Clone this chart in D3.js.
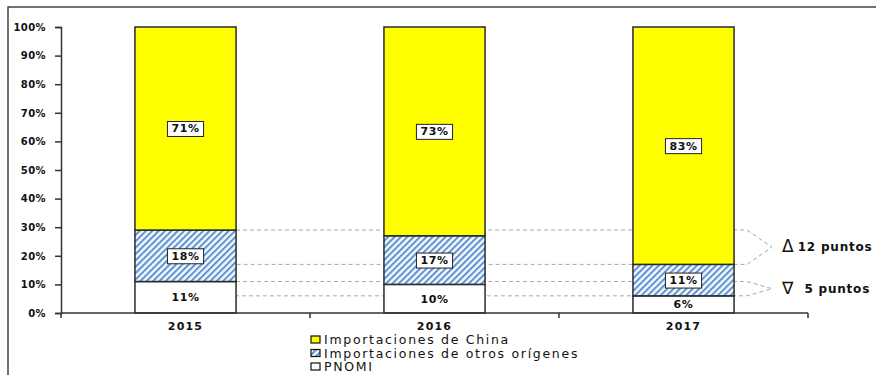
<!DOCTYPE html>
<html>
<head>
<meta charset="utf-8">
<script src="https://cdn.jsdelivr.net/npm/d3@7"></script>
<style>
  html, body { margin: 0; padding: 0; background: #fff; }
  svg { display: block; }
</style>
</head>
<body>
<svg id="chart" width="876" height="375"></svg>
<script>
// Shares of the apparent market by origin (%)
const years = ["2015", "2016", "2017"];
const pnomi = [11, 10, 6];
const otros = [18, 17, 11];
const china = [71, 73, 83];
const yTicks = [0, 10, 20, 30, 40, 50, 60, 70, 80, 90, 100];
const seriesNames = ["Importaciones de China", "Importaciones de otros orígenes", "PNOMI"];

const W = 876, H = 375;
const margin = { left: 61, right: 68, top: 27, bottom: 62 };
const svg = d3.select("#chart");

const x = d3.scaleBand()
  .domain(years)
  .range([margin.left, W - margin.right])
  .paddingInner(0.594)
  .paddingOuter(0.297);

const y = d3.scaleLinear()
  .domain([0, 100])
  .range([H - margin.bottom, margin.top]);

// Outer frame (top and left edges)
svg.append("path")
  .attr("d", `M8,${H} L8,7 L${W},7`)
  .attr("fill", "none")
  .attr("stroke", "#444")
  .attr("stroke-width", 1.5);

// Hatch for "otros orígenes"
const defs = svg.append("defs");
const pat = defs.append("pattern")
  .attr("id", "hatch")
  .attr("patternUnits", "userSpaceOnUse")
  .attr("width", 4.5).attr("height", 4.5)
  .attr("patternTransform", "rotate(45)");
pat.append("rect").attr("width", 4.5).attr("height", 4.5).attr("fill", "#f4f8fd");
pat.append("rect").attr("width", 2).attr("height", 4.5).attr("fill", "#5d93d3");

// Stacked rows: PNOMI at the bottom, then otros, then China
const rows = years.map((yr, i) => ({ year: yr, pnomi: pnomi[i], otros: otros[i], china: china[i] }));
const stack = d3.stack().keys(["pnomi", "otros", "china"])(rows);
const fills = { pnomi: "#ffffff", otros: "url(#hatch)", china: "#ffff00" };

// Comparison guides between 2015 and 2017
const guides = [
  { a: pnomi[0] + otros[0], b: pnomi[2] + otros[2], sym: "\u0394", off: 0 },
  { a: pnomi[0], b: pnomi[2], sym: "\u2207", off: 7 }
];
const gx0 = x("2015") + x.bandwidth();
const gx1 = x.range()[1] - 61;
const gTip = gx1 + 25;
const gGroup = svg.append("g");
guides.forEach(g => {
  const mid = (y(g.a) + y(g.b)) / 2;
  gGroup.append("path")
    .attr("d", `M${gx0},${y(g.a)} L${gx1},${y(g.a)} L${gTip},${mid} L${gx1},${y(g.b)} L${gx0},${y(g.b)}`)
    .attr("fill", "none")
    .attr("stroke", "#a8a8a8")
    .attr("stroke-width", 1)
    .attr("stroke-dasharray", "4,3");
  const t = svg.append("text")
    .attr("x", gTip + 10)
    .attr("y", mid + 5)
    .attr("font-family", "DejaVu Sans, Verdana, sans-serif")
    .attr("fill", "#111");
  t.append("tspan")
    .attr("font-size", 17)
    .attr("font-weight", "normal")
    .text(g.sym);
  t.append("tspan")
    .attr("dx", 4 + g.off)
    .attr("font-size", 12)
    .attr("font-weight", "bold")
    .attr("letter-spacing", 0.8)
    .attr("dy", -1)
    .text(`${g.a - g.b} puntos`);
});

// Bars
const layers = svg.append("g").selectAll("g")
  .data(stack)
  .join("g")
  .attr("fill", d => fills[d.key]);

layers.selectAll("rect")
  .data(d => d)
  .join("rect")
  .attr("x", d => x(d.data.year))
  .attr("y", d => y(d[1]))
  .attr("width", x.bandwidth())
  .attr("height", d => y(d[0]) - y(d[1]))
  .attr("stroke", "#2a2a2a")
  .attr("stroke-width", 1.5);

// Segment labels
const labelFont = "DejaVu Sans, Verdana, sans-serif";
stack.forEach(layer => {
  layer.forEach(d => {
    const cx = x(d.data.year) + x.bandwidth() / 2;
    const cy = (y(d[0]) + y(d[1])) / 2;
    const txt = `${d.data[layer.key]}%`;
    const g = svg.append("g");
    const t = g.append("text")
      .attr("x", cx)
      .attr("y", cy)
      .attr("dy", "0.36em")
      .attr("text-anchor", "middle")
      .attr("font-family", labelFont)
      .attr("font-size", 11)
      .attr("font-weight", "bold")
      .attr("letter-spacing", 0.6)
      .attr("fill", "#111")
      .text(txt);
    if (layer.key !== "pnomi") {
      const bb = t.node().getBBox();
      g.insert("rect", "text")
        .attr("x", bb.x - 4)
        .attr("y", bb.y - 1)
        .attr("width", bb.width + 8)
        .attr("height", bb.height + 2)
        .attr("fill", "#fff")
        .attr("stroke", "#222")
        .attr("stroke-width", 1);
    }
  });
});

// Y axis
const yAxis = svg.append("g")
  .attr("transform", `translate(${margin.left},0)`)
  .call(d3.axisLeft(y).tickValues(yTicks).tickFormat(d => d + "%").tickSize(6).tickPadding(9));
yAxis.select(".domain").attr("stroke", "#333").attr("stroke-width", 1.5);
yAxis.selectAll(".tick line").attr("stroke", "#333").attr("stroke-width", 1.5);
yAxis.selectAll(".tick text")
  .attr("font-family", labelFont)
  .attr("font-size", 10)
  .attr("font-weight", "bold")
  .attr("letter-spacing", 0.4)
  .attr("fill", "#111");

// X axis with ticks at the band edges
const xAxisG = svg.append("g")
  .attr("transform", `translate(0,${y(0)})`);
xAxisG.append("line")
  .attr("x1", x.range()[0]).attr("x2", x.range()[1])
  .attr("stroke", "#333").attr("stroke-width", 1.5);
const edges = years.map(yr => x(yr) - x.step() * x.paddingInner() / 2).concat([x.range()[1]]);
xAxisG.selectAll(".edge")
  .data(edges)
  .join("line")
  .attr("x1", d => d).attr("x2", d => d)
  .attr("y1", 0).attr("y2", 5)
  .attr("stroke", "#333").attr("stroke-width", 1.5);
xAxisG.selectAll(".yr")
  .data(years)
  .join("text")
  .attr("x", d => x(d) + x.bandwidth() / 2)
  .attr("y", 17)
  .attr("text-anchor", "middle")
  .attr("font-family", labelFont)
  .attr("font-size", 11)
  .attr("font-weight", "bold")
  .attr("letter-spacing", 1.2)
  .attr("fill", "#111")
  .text(d => d);

// Legend
const legendFills = ["#ffff00", "url(#hatch)", "#ffffff"];
const legend = svg.append("g").attr("transform", "translate(311,340)");
seriesNames.forEach((name, i) => {
  const row = legend.append("g").attr("transform", `translate(0,${i * 13.5})`);
  row.append("rect")
    .attr("x", 0).attr("y", -4)
    .attr("width", 9).attr("height", 7)
    .attr("fill", legendFills[i])
    .attr("stroke", "#111")
    .attr("stroke-width", 1.2);
  row.append("text")
    .attr("x", 13)
    .attr("y", 0)
    .attr("dy", "0.35em")
    .attr("font-family", labelFont)
    .attr("font-size", 12.5)
    .attr("letter-spacing", 1.7)
    .attr("fill", "#111")
    .text(name);
});
</script>
</body>
</html>
